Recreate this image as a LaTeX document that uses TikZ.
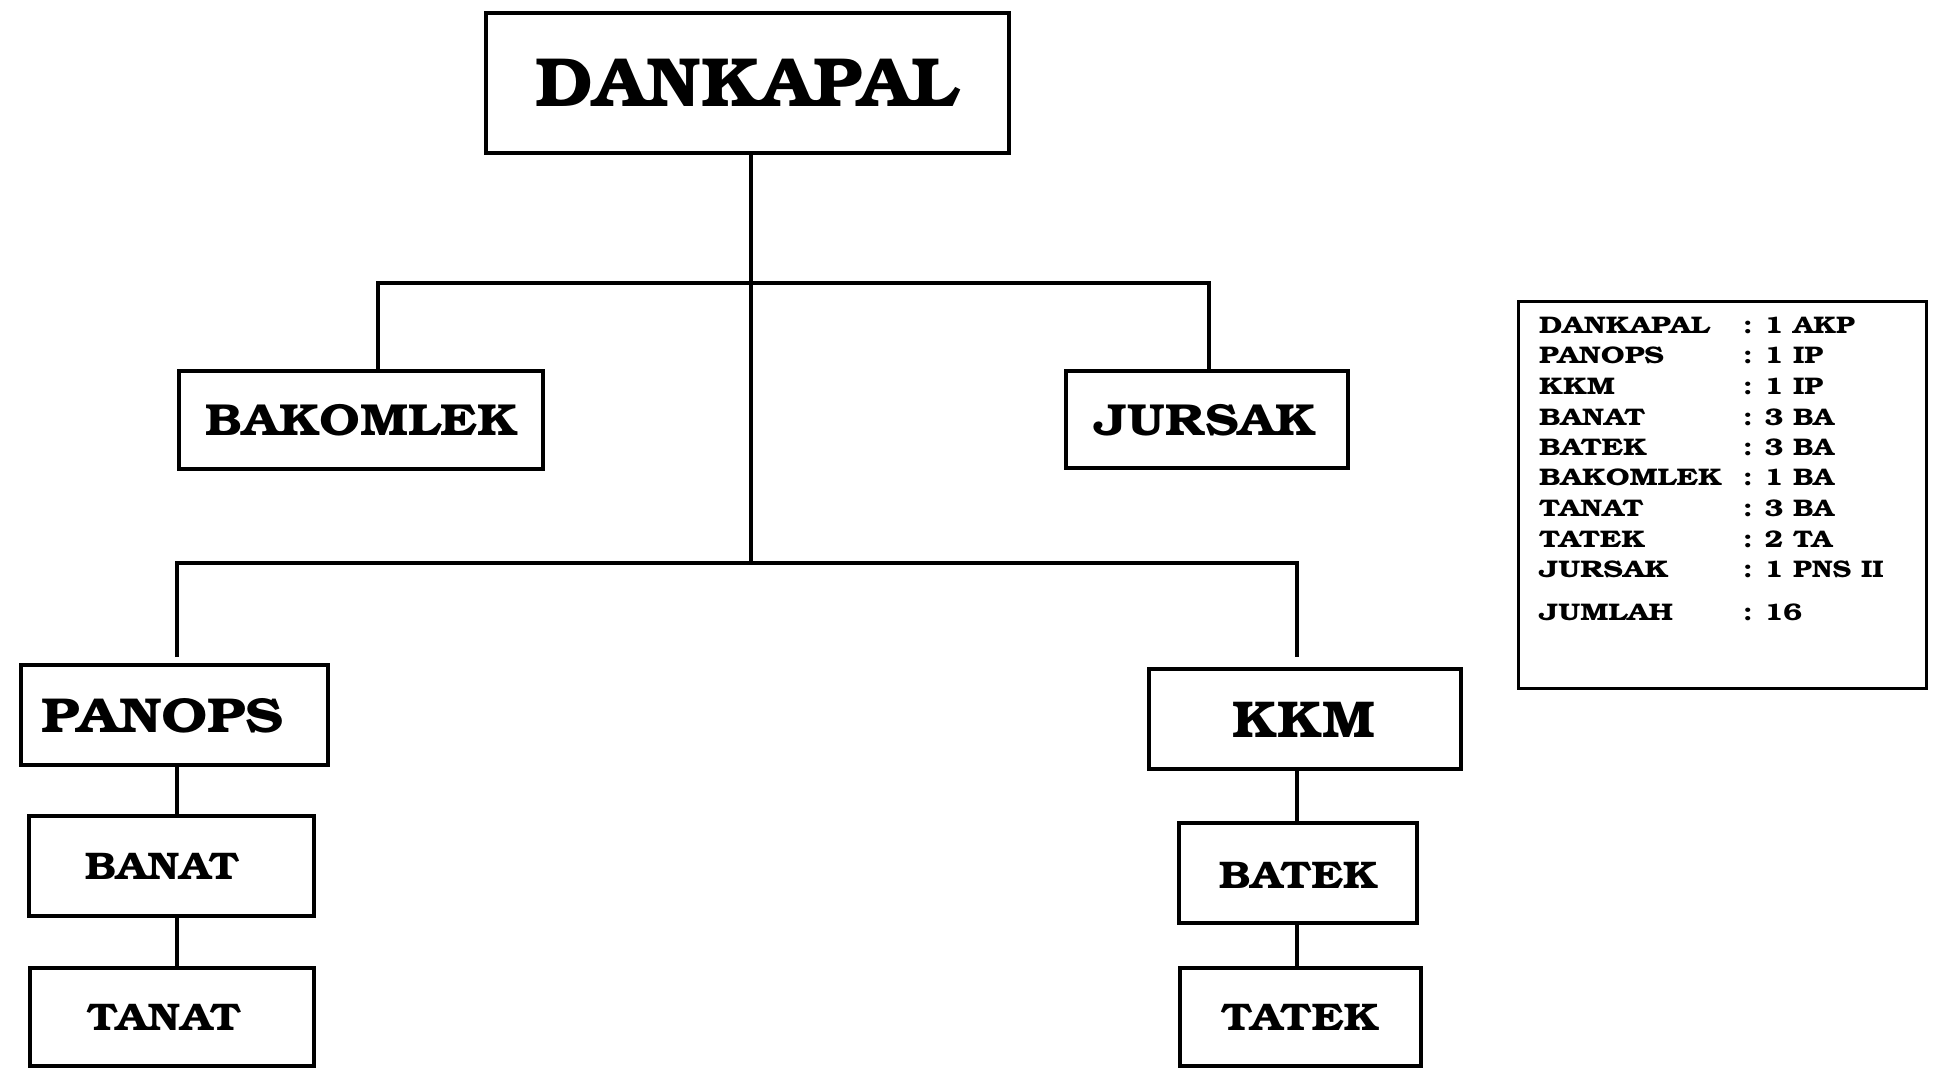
\documentclass[tikz,border=0pt]{standalone}
\usepackage[T1]{fontenc}
\usepackage{graphicx}
\usetikzlibrary{calc}
\newcommand{\bkf}{\fontfamily{pbk}\fontseries{b}\selectfont}
\begin{document}
\begin{tikzpicture}[x=1pt,y=-1pt,
  box/.style={draw, line width=4pt, inner sep=0pt, rectangle},
  lbl/.style={inner sep=0pt, font=\bkf},
  conn/.style={line width=4pt},
  leg/.style={inner sep=0pt, anchor=base west, font=\bkf\fontsize{24}{28}\selectfont}]
\useasboundingbox[fill=white] (0,0) rectangle (1936,1078);

% boxes
\node[box, minimum width=523pt, minimum height=140pt] (dank) at (747.5,83) {};
\node[box, minimum width=364pt, minimum height=98pt] (bakomlek) at (361,420) {};
\node[box, minimum width=282pt, minimum height=97pt] (jursak) at (1207,419.5) {};
\node[box, minimum width=307pt, minimum height=100pt] (panops) at (174.5,715) {};
\node[box, minimum width=285pt, minimum height=100pt] (banat) at (171.5,866) {};
\node[box, minimum width=284pt, minimum height=98pt] (tanat) at (172,1017) {};
\node[box, minimum width=312pt, minimum height=100pt] (kkm) at (1305,719) {};
\node[box, minimum width=238pt, minimum height=100pt] (batek) at (1298,873) {};
\node[box, minimum width=241pt, minimum height=98pt] (tatek) at (1300.5,1017) {};

% labels
\node[lbl] (tdank) at (747.5,82.5) {\resizebox{423pt}{47pt}{DANKAPAL}};
\node[lbl] (tbakomlek) at (362,420) {\resizebox{312pt}{32pt}{BAKOMLEK}};
\node[lbl] (tjursak) at (1205.5,420) {\resizebox{221pt}{32pt}{JURSAK}};
\node[lbl] (tpanops) at (163,716) {\resizebox{242pt}{35pt}{PANOPS}};
\node[lbl] (tbanat) at (162,866.5) {\resizebox{154pt}{26pt}{BANAT}};
\node[lbl] (ttanat) at (164,1017.5) {\resizebox{154pt}{26pt}{TANAT}};
\node[lbl] (tkkm) at (1304,720) {\resizebox{142pt}{35pt}{KKM}};
\node[lbl] (tbatek) at (1298.5,875) {\resizebox{159pt}{26pt}{BATEK}};
\node[lbl] (ttatek) at (1300,1017) {\resizebox{158pt}{26pt}{TATEK}};

% junction coordinates
\coordinate (T) at (751,563);
\coordinate (L1) at (378,283);
\coordinate (R1) at (1209,283);
\coordinate (L2) at (177,563);
\coordinate (R2) at (1297,563);

% connectors
\draw[conn] (dank.south -| T) -- (T);
\draw[conn] (L1 |- bakomlek.north) -- (L1) -- (R1) -- (R1 |- jursak.north);
\draw[conn, shorten <=6pt, shorten >=10pt] (L2 |- panops.north) -- (L2) -- (R2) -- (R2 |- kkm.north);
\draw[conn] (L2 |- panops.south) -- (L2 |- banat.north);
\draw[conn] (L2 |- banat.south) -- (L2 |- tanat.north);
\draw[conn] (R2 |- kkm.south) -- (R2 |- batek.north);
\draw[conn] (R2 |- batek.south) -- (R2 |- tatek.north);

% legend
\node[draw, line width=3pt, inner sep=0pt, minimum width=408pt, minimum height=387pt] (legend) at (1722.5,495) {};
\foreach \n/\v/\y [count=\i] in {DANKAPAL/1 AKP/333, PANOPS/1 IP/363, KKM/1 IP/394, BANAT/3 BA/425, BATEK/3 BA/455, BAKOMLEK/1 BA/485, TANAT/3 BA/516, TATEK/2 TA/547, JURSAK/1 PNS II/577, JUMLAH/16/620} {
  \node[leg] (ln\i) at (1539,\y) {\scalebox{1.24}[1]{\n}};
  \node[leg] (lv\i) at (1743,\y) {\scalebox{1.18}[1]{: \v}};
}
\end{tikzpicture}
\end{document}
